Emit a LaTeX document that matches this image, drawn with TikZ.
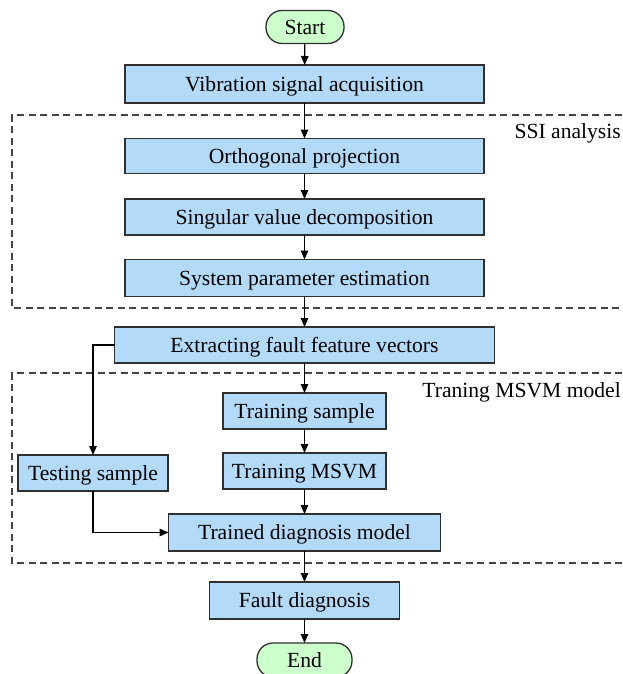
\documentclass[tikz,border=0pt]{standalone}
\usepackage{fontspec}
\setmainfont{Liberation Serif}
\usetikzlibrary{arrows.meta}
\definecolor{boxblue}{HTML}{B3DAF8}
\definecolor{termgreen}{HTML}{CCFFCC}
\definecolor{edgegray}{HTML}{303030}
\definecolor{dashgray}{HTML}{454545}
\tikzset{
  base/.style={draw=edgegray, line width=1.3pt, inner sep=0pt, outer sep=0pt,
    font=\fontsize{21.6}{25}\selectfont, text=black, text height=14.3pt, text depth=0pt},
  procbox/.style={base, rectangle, fill=boxblue},
  termbox/.style={base, rectangle, rounded corners=16pt, fill=termgreen},
  conn/.style={draw=black, line width=1.2pt, -{Triangle[length=9pt,width=7.5pt]}},
  grpline/.style={draw=dashgray, line width=1.3pt, dash pattern=on 7pt off 4.5pt},
  grplabel/.style={font=\fontsize{21.6}{25}\selectfont, inner sep=0pt, anchor=east,
    text height=14.3pt, text depth=0pt}
}
\begin{document}
\begin{tikzpicture}[x=1pt,y=-1pt]
\useasboundingbox (0,0) rectangle (622,674);
% group frames
\draw[grpline] (622,115) -- (12,115) -- (12,308) -- (622,308);
\draw[grpline] (622,373) -- (12,373) -- (12,563) -- (622,563);
\node[grplabel] (ssilab) at (621,131.5) {SSI analysis};
\node[grplabel] (mlab) at (621,390.5) {Traning MSVM model};
% nodes
\node[termbox, minimum width=78pt, minimum height=33pt] (start) at (305,27) {Start};
\node[procbox, minimum width=359pt, minimum height=38pt] (vib) at (304.5,84) {Vibration signal acquisition};
\node[procbox, minimum width=359pt, minimum height=35pt] (ortho) at (304.5,156) {Orthogonal projection};
\node[procbox, minimum width=359pt, minimum height=36pt] (sing) at (304.5,217) {Singular value decomposition};
\node[procbox, minimum width=359pt, minimum height=37pt] (sys) at (304.5,278) {System parameter estimation};
\node[procbox, minimum width=380pt, minimum height=36pt] (ext) at (304.5,345) {Extracting fault feature vectors};
\node[procbox, minimum width=163pt, minimum height=36pt] (trs) at (304.5,411) {Training sample};
\node[procbox, minimum width=163pt, minimum height=36pt] (trm) at (304.5,471) {Training MSVM};
\node[procbox, minimum width=150pt, minimum height=36pt] (tst) at (93,473) {Testing sample};
\node[procbox, minimum width=272pt, minimum height=37pt] (trd) at (304.5,532.5) {Trained diagnosis model};
\node[procbox, minimum width=190pt, minimum height=37pt] (fault) at (304.5,600.5) {Fault diagnosis};
\node[termbox, minimum width=95pt, minimum height=34pt] (end) at (304.5,660) {End};
% connectors
\draw[conn] (start) -- (vib);
\draw[conn] (vib) -- (ortho);
\draw[conn] (ortho) -- (sing);
\draw[conn] (sing) -- (sys);
\draw[conn] (sys) -- (ext);
\draw[conn] (ext) -- (trs);
\draw[conn] (trs) -- (trm);
\draw[conn] (trm) -- (trd);
\draw[conn] (trd) -- (fault);
\draw[conn] (fault) -- (end);
\draw[conn] (ext.west) -| (tst.north);
\draw[conn] (tst.south) |- (trd.west);
\end{tikzpicture}
\end{document}
